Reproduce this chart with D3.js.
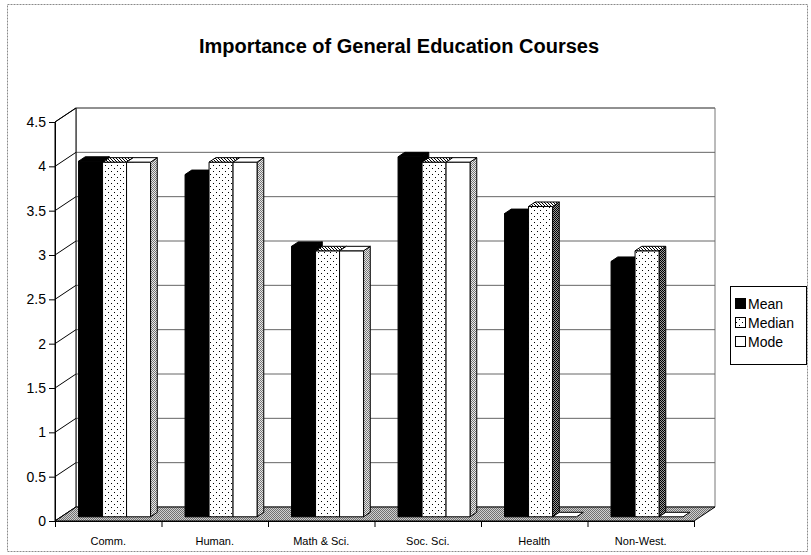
<!DOCTYPE html>
<html>
<head>
<meta charset="utf-8">
<script src="https://cdn.jsdelivr.net/npm/d3@7"></script>
<style>
  body { margin: 0; background: #fff; }
  svg { display: block; }
  text { font-family: Arial, "Liberation Sans", sans-serif; fill: #000; }
</style>
</head>
<body>
<div id="chart"></div>
<script>
// ---- data ----
const categories = ["Comm.", "Human.", "Math & Sci.", "Soc. Sci.", "Health", "Non-West."];
const seriesNames = ["Mean", "Median", "Mode"];
const meanValues = [4.01, 3.86, 3.05, 4.06, 3.42, 2.88];
const medianValues = [4, 4, 3, 4, 3.5, 3];
const modeValues = [4, 4, 3, 4, 0, 0];
const valueTicks = [0, 0.5, 1, 1.5, 2, 2.5, 3, 3.5, 4, 4.5];
const chartTitle = "Importance of General Education Courses";

const seriesValues = [meanValues, medianValues, modeValues];

// ---- layout ----
const W = 811, H = 555;
const svg = d3.select("#chart").append("svg").attr("width", W).attr("height", H);

// pixel patterns for the monochrome fills
const defs = svg.append("defs");
function pixelPattern(id, size, bg, fg, pixels) {
  const p = defs.append("pattern").attr("id", id).attr("patternUnits", "userSpaceOnUse")
    .attr("width", size).attr("height", size);
  p.append("rect").attr("width", size).attr("height", size).attr("fill", bg);
  pixels.forEach(([x, y]) => p.append("rect").attr("x", x).attr("y", y)
    .attr("width", 1).attr("height", 1).attr("fill", fg).attr("shape-rendering", "crispEdges"));
}
pixelPattern("dots", 6, "#fff", "#000", [[0, 0], [3, 3]]);
pixelPattern("dotsTop", 3, "#fff", "#000", [[0, 0], [1, 1], [2, 2]]);
pixelPattern("hatchLight", 2, "#e8e8e8", "#777", [[0, 0], [1, 1]]);
pixelPattern("hatchDark", 2, "#9a9a9a", "#000", [[0, 0], [1, 1]]);
pixelPattern("floorFill", 2, "#d0d0d0", "#707070", [[0, 0], [1, 1]]);

// front-plane scales and oblique depth projection
const x = d3.scaleBand().domain(categories).range([55, 694]).paddingInner(0).paddingOuter(0);
const xEdge = d3.scaleLinear().domain([0, categories.length]).range([55, 694]);
const y = d3.scaleLinear().domain([0, 4.5]).range([521, 122]);
const DX = 21, DY = -14;
const proj = (px, v, z) => [px + DX * z, y(v) + DY * z];
const poly = pts => "M" + pts.map(p => p.join(",")).join("L") + "Z";

// outer frame
svg.append("rect").attr("x", 7.5).attr("y", 4.5).attr("width", 800).attr("height", 547)
  .attr("fill", "none").attr("stroke", "#8a8a8a").attr("stroke-width", 1)
  .attr("stroke-dasharray", "2,1");

// title
svg.append("text").attr("x", 399).attr("y", 53).attr("text-anchor", "middle")
  .style("font-size", "20px").style("font-weight", "bold").text(chartTitle);

const x0 = xEdge(0), x1 = xEdge(categories.length);
const vMax = valueTicks[valueTicks.length - 1];

// back wall with gridlines
svg.append("path")
  .attr("d", poly([proj(x0, 0, 1), proj(x1, 0, 1), proj(x1, vMax, 1), proj(x0, vMax, 1)]))
  .attr("fill", "#fff").attr("stroke", "#777").attr("stroke-width", 1);
svg.append("g").selectAll("line").data(valueTicks.filter(v => v > 0)).join("line")
  .attr("x1", v => proj(x0, v, 1)[0]).attr("y1", v => proj(x0, v, 1)[1])
  .attr("x2", v => proj(x1, v, 1)[0]).attr("y2", v => proj(x1, v, 1)[1])
  .attr("stroke", "#666").attr("stroke-width", 1);

// left wall
svg.append("path")
  .attr("d", poly([proj(x0, 0, 0), proj(x0, 0, 1), proj(x0, vMax, 1), proj(x0, vMax, 0)]))
  .attr("fill", "#fff").attr("stroke", "#000").attr("stroke-width", 1);
svg.append("g").selectAll("line").data(valueTicks).join("line")
  .attr("x1", v => proj(x0, v, 0)[0]).attr("y1", v => proj(x0, v, 0)[1])
  .attr("x2", v => proj(x0, v, 1)[0]).attr("y2", v => proj(x0, v, 1)[1])
  .attr("stroke", "#000").attr("stroke-width", 1);

// floor
svg.append("path")
  .attr("d", poly([proj(x0, 0, 0), proj(x1, 0, 0), proj(x1, 0, 1), proj(x0, 0, 1)]))
  .attr("fill", "url(#floorFill)").attr("stroke", "#000").attr("stroke-width", 1);

// bars: each is a box with front, right side and top faces
const Z0 = 0.3, Z1 = 0.62;
const barW = 24;
const inner = d3.scaleBand().domain(seriesNames).range([0, barW * seriesNames.length]);
const groupOffset = (x.bandwidth() - barW * seriesNames.length) / 2;
const styles = {
  Mean:   { front: "#000", top: "#000", side: "#000" },
  Median: { front: "url(#dots)", top: "url(#dotsTop)", side: "url(#hatchDark)" },
  Mode:   { front: "#fff", top: "#fff", side: "url(#hatchLight)" }
};

const bars = [];
categories.forEach((c, ci) => {
  seriesNames.forEach((s, si) => {
    bars.push({ cat: c, series: s, value: seriesValues[si][ci] });
  });
});

const barG = svg.append("g");
bars.forEach(b => {
  const xl = x(b.cat) + groupOffset + inner(b.series);
  const xr = xl + inner.bandwidth();
  const v = b.value;
  const st = styles[b.series];
  const g = barG.append("g");
  if (v > 0) {
    g.append("path")
      .attr("d", poly([proj(xr, 0, Z0), proj(xr, 0, Z1), proj(xr, v, Z1), proj(xr, v, Z0)]))
      .attr("fill", st.side).attr("stroke", "#000").attr("stroke-width", 1).attr("stroke-linejoin", "round");
    g.append("path")
      .attr("d", poly([proj(xl, 0, Z0), proj(xr, 0, Z0), proj(xr, v, Z0), proj(xl, v, Z0)]))
      .attr("fill", st.front).attr("stroke", "#000").attr("stroke-width", 1).attr("stroke-linejoin", "round");
  }
  g.append("path")
    .attr("d", poly([proj(xl, v, Z0), proj(xr, v, Z0), proj(xr, v, Z1), proj(xl, v, Z1)]))
    .attr("fill", st.top).attr("stroke", "#000").attr("stroke-width", 1).attr("stroke-linejoin", "round");
});

// value axis on the front-left edge
svg.append("g").attr("transform", `translate(${x0},0)`)
  .call(d3.axisLeft(y).tickValues(valueTicks).tickSize(6).tickPadding(3).tickFormat(d => String(d)))
  .call(g => g.selectAll("text").style("font-size", "14px").style("font-family", "Arial, 'Liberation Sans', sans-serif"))
  .call(g => g.selectAll("line,path").attr("stroke", "#000"));

// category axis along the front edge of the floor
svg.append("g").attr("transform", `translate(0,${y(0)})`)
  .call(d3.axisBottom(xEdge).tickValues(d3.range(categories.length + 1)).tickSize(6).tickFormat(""))
  .call(g => g.selectAll("line,path").attr("stroke", "#000"));
svg.append("g").selectAll("text").data(categories).join("text")
  .attr("x", d => x(d) + x.bandwidth() / 2).attr("y", 545)
  .attr("text-anchor", "middle").style("font-size", "11px").text(d => d);

// legend
const lg = svg.append("g").attr("transform", "translate(730,286)");
lg.append("rect").attr("x", 0.5).attr("y", 0.5).attr("width", 76).attr("height", 78)
  .attr("fill", "#fff").attr("stroke", "#000").attr("stroke-width", 1);
const legendFill = { Mean: "#000", Median: "url(#dots)", Mode: "#fff" };
seriesNames.forEach((s, i) => {
  const cy = 18 + i * 19;
  lg.append("rect").attr("x", 5.5).attr("y", cy - 5.5).attr("width", 10).attr("height", 10)
    .attr("fill", legendFill[s]).attr("stroke", "#000").attr("stroke-width", 1);
  lg.append("text").attr("x", 18).attr("y", cy + 5).style("font-size", "14px").text(s);
});
</script>
</body>
</html>
